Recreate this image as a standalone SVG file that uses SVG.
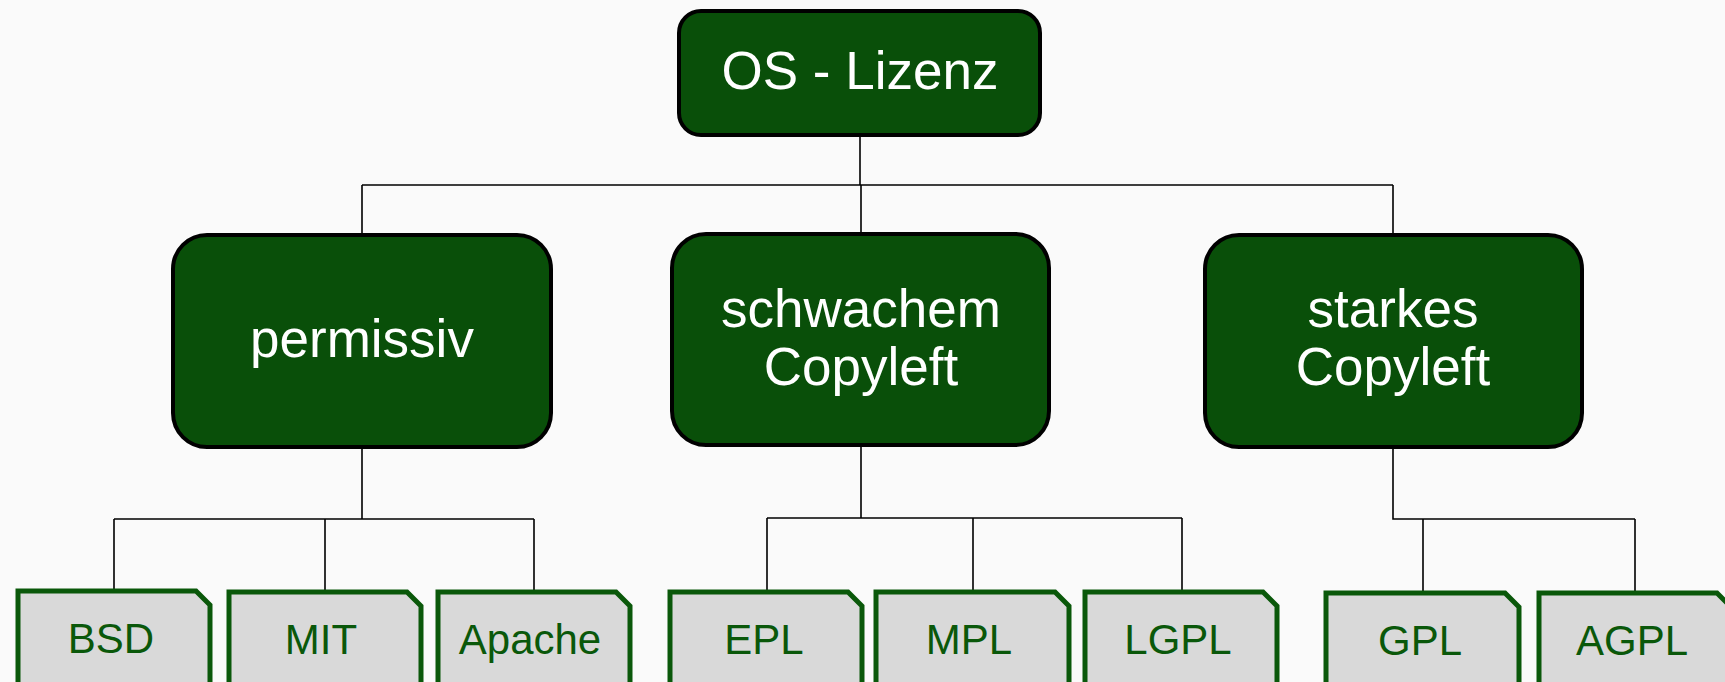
<svg xmlns="http://www.w3.org/2000/svg" width="1725" height="682" viewBox="0 0 1725 682">
<style>
.main rect{fill:#094f09;stroke:#000;stroke-width:4}
.main text{fill:#fff;font-family:"Liberation Sans",Arial,sans-serif;font-size:53px;text-anchor:middle}
.leaf path{fill:#d9d9d9;stroke:#0a580a;stroke-width:5;stroke-linejoin:miter}
.leaf text{fill:#0a580a;font-family:"Liberation Sans",Arial,sans-serif;font-size:42px;text-anchor:middle}
#connectors path{fill:none;stroke:#000;stroke-width:1.6}
</style>
<rect width="1725" height="682" fill="#fafafa"/>
<g id="connectors">
<path d="M860 137V185M362 185H1393M362 185V233M861 185V232M1393 185V233"/>
<path d="M362 449V519M114 519H534M114 519V589M325 519V590M534 519V590"/>
<path d="M861 446V518M767 518H1182M767 518V590M973 518V590M1182 518V590"/>
<path d="M1393 448V519H1635M1423 519V591M1635 519V591"/>
</g>
<g id="n-os" class="main"><rect x="679" y="11" width="361" height="124" rx="22"/><text x="860" y="89">OS - Lizenz</text></g>
<g id="n-permissiv" class="main"><rect x="173" y="235" width="378" height="212" rx="34"/><text x="362" y="357">permissiv</text></g>
<g id="n-schwach" class="main"><rect x="672" y="234" width="377" height="211" rx="34"/><text x="861" y="327">schwachem</text><text x="861" y="385">Copyleft</text></g>
<g id="n-stark" class="main"><rect x="1205" y="235" width="377" height="212" rx="34"/><text x="1393" y="327">starkes</text><text x="1393" y="385">Copyleft</text></g>
<g id="n-bsd" class="leaf"><path d="M18 591H196L210 605V700H18Z"/><text x="111" y="653">BSD</text></g>
<g id="n-mit" class="leaf"><path d="M229 592H407L421 606V700H229Z"/><text x="321" y="654">MIT</text></g>
<g id="n-apache" class="leaf"><path d="M438 592H616L630 606V700H438Z"/><text x="530" y="654">Apache</text></g>
<g id="n-epl" class="leaf"><path d="M670 592H848L862 606V700H670Z"/><text x="764" y="654">EPL</text></g>
<g id="n-mpl" class="leaf"><path d="M876 592H1055L1069 606V700H876Z"/><text x="969" y="654">MPL</text></g>
<g id="n-lgpl" class="leaf"><path d="M1085 592H1263L1277 606V700H1085Z"/><text x="1178" y="654">LGPL</text></g>
<g id="n-gpl" class="leaf"><path d="M1326 593H1505L1519 607V700H1326Z"/><text x="1420" y="655">GPL</text></g>
<g id="n-agpl" class="leaf"><path d="M1539 593H1717L1731 607V700H1539Z"/><text x="1632" y="655">AGPL</text></g>
</svg>
